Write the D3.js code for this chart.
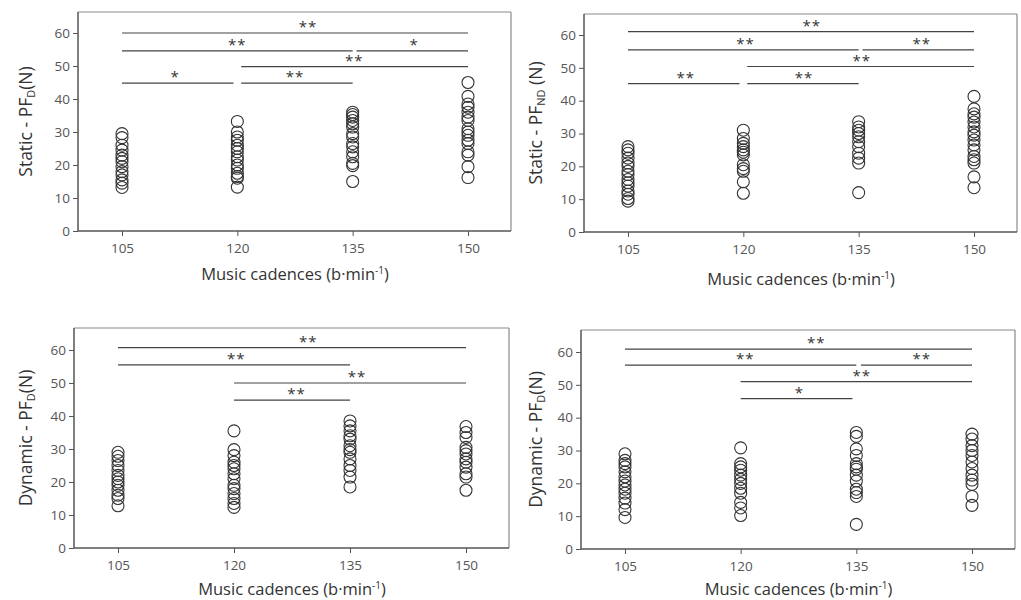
<!DOCTYPE html>
<html><head><meta charset="utf-8">
<script src="https://cdn.jsdelivr.net/npm/d3@7"></script>
<style>body{margin:0;background:#fff}svg{display:block}</style>
</head><body><svg id="c" width="1021" height="600"></svg>
<script>
// ---------- data ----------
const cadences = [105, 120, 135, 150];
const yTicks = [0, 10, 20, 30, 40, 50, 60];

// Static - PF_D
const staticD105 = [29.5, 28.3, 26, 24.5, 23, 22, 21, 19.5, 18, 17, 15.5, 14.5, 13.2];
const staticD120 = [33.2, 30, 28.5, 27.5, 26, 25, 24, 22.5, 21.5, 20, 19, 17.5, 16.5, 16, 13.3];
const staticD135 = [36, 35.3, 34.5, 33.5, 32.5, 31.5, 29.5, 28.5, 26.5, 25.5, 24, 22.5, 20.5, 19.8, 15];
const staticD150 = [45, 40.8, 38.5, 37.5, 36, 34.5, 33.5, 31, 30, 29, 27.5, 26.5, 24, 23, 19.5, 16.2];

// Static - PF_ND
const staticND105 = [26, 25, 24, 22.5, 21, 20, 18.5, 17.5, 16, 15, 14, 12.5, 11.5, 10.2, 9.4];
const staticND120 = [31, 28.5, 27, 26, 25, 24.3, 23.5, 20.5, 19.3, 18.5, 15.3, 11.8];
const staticND135 = [33.6, 32, 31, 30, 29, 27.5, 26, 24, 22.5, 21, 12];
const staticND150 = [41.3, 37.5, 36, 35, 33.5, 32, 30.5, 29.5, 28, 26.5, 25, 23, 22, 21, 16.8, 13.5];

// Dynamic - PF_D (left)
const dynD105 = [29, 27.8, 26.5, 25, 23.5, 22, 21, 20, 19, 17.5, 16, 15, 12.8];
const dynD120 = [35.5, 29.8, 28, 26, 25, 24, 22.5, 21, 19, 18, 16.5, 15, 13.5, 12.3];
const dynD135 = [38.5, 37, 35.5, 34, 33, 31, 29.8, 29, 27, 25, 23.5, 21.5, 18.5];
const dynD150 = [36.8, 35, 33.5, 30.5, 29.5, 28.5, 27, 26, 24.5, 22.5, 21.5, 17.5];

// Dynamic - PF_D (right)
const dynND105 = [29, 27, 26, 25, 23.5, 22, 20.7, 19.5, 18.2, 17, 15.5, 14, 12, 9.6];
const dynND120 = [30.8, 26, 25, 24, 22.5, 21.2, 20, 18.5, 17, 14.2, 12.5, 10.2];
const dynND135 = [35.5, 34.3, 30.5, 28.5, 26, 25, 24.3, 22.5, 20.7, 18.2, 17.2, 16, 7.5];
const dynND150 = [35, 33.5, 31.5, 30, 28.5, 26.5, 24.5, 22.5, 21, 19.7, 16, 13.3];

// significance brackets: from, to (cadence), level (N), label, label position (cadence units)
const sigStaticD = [
  {from:105, to:150, y:60, label:"**", lx:129.2},
  {from:105, to:135, y:54.6, label:"**", lx:120},
  {from:135.5, to:150, y:54.6, label:"*", lx:143},
  {from:120.5, to:150, y:49.8, label:"**", lx:135.2},
  {from:105, to:119.5, y:44.8, label:"*", lx:111.9},
  {from:120.5, to:135, y:44.8, label:"**", lx:127.5}
];
const sigStaticND = [
  {from:105, to:150, y:61, label:"**", lx:128.9},
  {from:105, to:135, y:55.5, label:"**", lx:120.3},
  {from:135.5, to:150, y:55.5, label:"**", lx:143.2},
  {from:120.5, to:150, y:50.4, label:"**", lx:135.4},
  {from:105, to:119.5, y:45.2, label:"**", lx:112.5},
  {from:120.5, to:135, y:45.2, label:"**", lx:127.9}
];
const sigDynD = [
  {from:105, to:150, y:60.7, label:"**", lx:129.6},
  {from:105, to:135, y:55.5, label:"**", lx:120.3},
  {from:120, to:150, y:50, label:"**", lx:135.9},
  {from:120, to:135, y:44.8, label:"**", lx:128.1}
];
const sigDynND = [
  {from:105, to:150, y:60.9, label:"**", lx:129.8},
  {from:105, to:135, y:56, label:"**", lx:120.6},
  {from:135.6, to:150, y:56, label:"**", lx:143.5},
  {from:120, to:150, y:51, label:"**", lx:135.7},
  {from:120, to:134.5, y:45.8, label:"*", lx:127.6}
];

const yLabels = [
  {main:"Static - PF", sub:"D", tail:"(N)"},
  {main:"Static - PF", sub:"ND", tail:" (N)"},
  {main:"Dynamic - PF", sub:"D", tail:"(N)"},
  {main:"Dynamic - PF", sub:"D", tail:"(N)"}
];

// ---------- layout ----------
const panels = [
  {frame:[78, 12, 511, 231], y0:231, y60:33, x105:122, x150:468, ylabX:32, xlabY:280,
   series:[staticD105, staticD120, staticD135, staticD150], sig:sigStaticD, lab:yLabels[0]},
  {frame:[584, 14, 1017, 232], y0:232, y60:35, x105:628, x150:974, ylabX:542, xlabY:285,
   series:[staticND105, staticND120, staticND135, staticND150], sig:sigStaticND, lab:yLabels[1]},
  {frame:[74, 328, 509, 548], y0:548, y60:350, x105:118, x150:466, ylabX:32, xlabY:595,
   series:[dynD105, dynD120, dynD135, dynD150], sig:sigDynD, lab:yLabels[2]},
  {frame:[581, 330, 1015, 549], y0:549, y60:352, x105:625, x150:972, ylabX:542, xlabY:595,
   series:[dynND105, dynND120, dynND135, dynND150], sig:sigDynND, lab:yLabels[3]}
];

const svg = d3.select("#c");
const FONT = "'Open Sans', 'Noto Sans', sans-serif";

panels.forEach(p => {
  const x = d3.scaleLinear().domain([105, 150]).range([p.x105, p.x150]);
  const y = d3.scaleLinear().domain([0, 60]).range([p.y0, p.y60]);
  const [L, T, R, B] = p.frame;
  const g = svg.append("g");

  // frame (top & right lighter)
  g.append("line").attr("x1", L).attr("x2", R).attr("y1", T).attr("y2", T).attr("stroke", "#8a8a8a").attr("stroke-width", 1.2);
  g.append("line").attr("x1", R).attr("x2", R).attr("y1", T).attr("y2", B).attr("stroke", "#8a8a8a").attr("stroke-width", 1.2);

  // y axis
  const ya = g.append("g").attr("transform", `translate(${L},0)`)
    .call(d3.axisLeft(y).tickValues(yTicks).tickSize(5).tickPadding(3).tickFormat(d3.format("d")));
  ya.select(".domain").attr("d", `M0,${T}V${B}`).attr("stroke", "#555").attr("stroke-width", 1.5);
  ya.selectAll(".tick line").attr("stroke", "#555");
  ya.selectAll(".tick text").attr("font-family", FONT).attr("font-size", 13.5).attr("fill", "#555");

  // x axis
  const xa = g.append("g").attr("transform", `translate(0,${B})`)
    .call(d3.axisBottom(x).tickValues(cadences).tickSize(5).tickPadding(7).tickFormat(d3.format("d")));
  xa.select(".domain").attr("d", `M${L},0H${R}`).attr("stroke", "#555").attr("stroke-width", 1.5);
  xa.selectAll(".tick line").attr("stroke", "#555");
  xa.selectAll(".tick text").attr("font-family", FONT).attr("font-size", 13.5).attr("fill", "#555");

  // significance brackets
  p.sig.forEach(s => {
    g.append("line").attr("x1", x(s.from)).attr("x2", x(s.to))
      .attr("y1", y(s.y)).attr("y2", y(s.y)).attr("stroke", "#444").attr("stroke-width", 1.2);
    g.append("text").attr("x", x(s.lx)).attr("y", y(s.y) - 1)
      .attr("text-anchor", "middle").attr("font-family", FONT).attr("font-size", 15)
      .attr("letter-spacing", "1px").attr("fill", "#333").text(s.label);
  });

  // points
  p.series.forEach((vals, i) => {
    g.selectAll(null).data(vals).enter().append("circle")
      .attr("cx", x(cadences[i])).attr("cy", d => y(d)).attr("r", 6)
      .attr("fill", "none").attr("stroke", "#333").attr("stroke-width", 1.1);
  });

  // y label
  const cy = (T + B) / 2;
  const yl = g.append("text").attr("transform", `translate(${p.ylabX},${cy}) rotate(-90)`)
    .attr("text-anchor", "middle").attr("font-family", FONT).attr("font-size", 17.5).attr("fill", "#333");
  yl.append("tspan").text(p.lab.main);
  yl.append("tspan").attr("font-size", 11).attr("dy", 3).text(p.lab.sub);
  yl.append("tspan").attr("dy", -3).text(p.lab.tail);

  // x label
  const xl = g.append("text").attr("x", (x(105) + x(150)) / 2).attr("y", p.xlabY)
    .attr("text-anchor", "middle").attr("font-family", FONT).attr("font-size", 16.5).attr("fill", "#333");
  xl.append("tspan").text("Music cadences (b·min");
  xl.append("tspan").attr("font-size", 10).attr("dy", -6).text("-1");
  xl.append("tspan").attr("dy", 6).text(")");
});
</script>
</body></html>
